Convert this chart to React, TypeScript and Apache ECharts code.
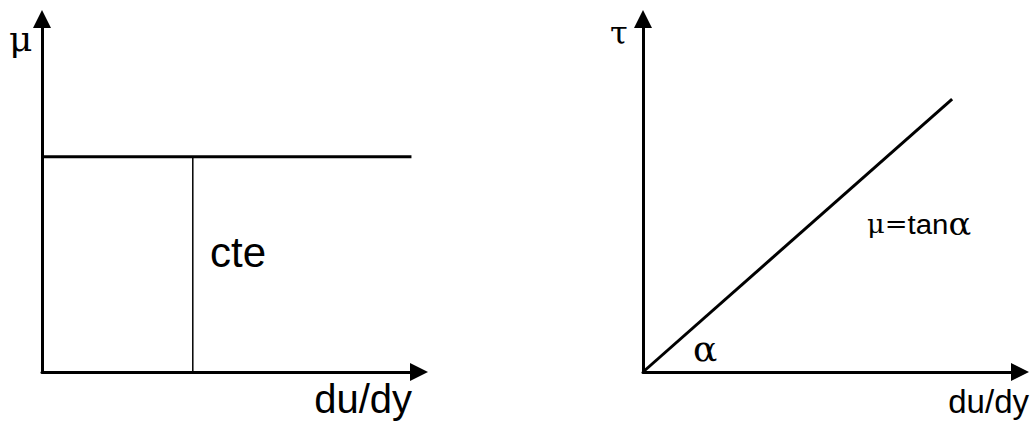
import React, { useEffect, useRef } from "react";
import * as echarts from "echarts";

// ---- data ----
const axisRange = [0, 10];
const muX = [0, 9.8]; // horizontal μ line (du/dy range)
const muY = [6.1, 6.1]; // constant viscosity
const cteX = [4, 4]; // vertical marker line
const cteY = [0, 6.1];
const tauX = [0, 8.2]; // τ vs du/dy
const tauY = [0, 7.73];
const labels = {
  mu: "μ",
  tau: "τ",
  x: "du/dy",
  cte: "cte",
  slopeLeft: "μ=",
  slopeMid: "tan",
  slopeRight: "α",
  angle: "α",
};

const SANS = "'Liberation Sans', Arial, sans-serif";
const SERIF = "'DejaVu Serif', 'Liberation Serif', serif";

function pairs(xs: number[], ys: number[]) {
  return xs.map((x, i) => [x, ys[i]]);
}

function axis(gridIndex: number) {
  return {
    type: "value",
    gridIndex,
    min: axisRange[0],
    max: axisRange[1],
    axisTick: { show: false },
    axisLabel: { show: false },
    splitLine: { show: false },
    axisLine: {
      show: true,
      symbol: ["none", "triangle"],
      symbolSize: [18, 18],
      lineStyle: { color: "#000", width: 3 },
    },
  };
}

export default function App() {
  const ref = useRef<HTMLDivElement>(null);
  useEffect(() => {
    if (!ref.current) return;
    const chart = echarts.init(ref.current, null, { renderer: "svg" });
    chart.setOption({
      animation: false,
      backgroundColor: "#fff",
      grid: [
        { left: 42, top: 19, width: 377, bottom: 49 },
        { left: 643, top: 19, width: 377, bottom: 49 },
      ],
      xAxis: [axis(0), axis(1)],
      yAxis: [axis(0), axis(1)],
      series: [
        {
          type: "line",
          xAxisIndex: 0,
          yAxisIndex: 0,
          data: pairs(muX, muY),
          showSymbol: false,
          lineStyle: { color: "#000", width: 3 },
        },
        {
          type: "line",
          xAxisIndex: 0,
          yAxisIndex: 0,
          data: pairs(cteX, cteY),
          showSymbol: false,
          lineStyle: { color: "#000", width: 1.5 },
        },
        {
          type: "line",
          xAxisIndex: 1,
          yAxisIndex: 1,
          data: pairs(tauX, tauY),
          showSymbol: false,
          lineStyle: { color: "#000", width: 3 },
        },
      ],
      graphic: [
        {
          type: "text",
          x: 9,
          y: 38,
          style: { text: labels.mu, font: `36px ${SERIF}`, fill: "#000", align: "left", verticalAlign: "middle" },
        },
        {
          type: "text",
          x: 610,
          y: 33,
          style: { text: labels.tau, font: `32px ${SERIF}`, fill: "#000", align: "left", verticalAlign: "middle" },
        },
        {
          type: "text",
          x: 412,
          y: 399,
          style: { text: labels.x, font: `40px ${SANS}`, fill: "#000", align: "right", verticalAlign: "middle" },
        },
        {
          type: "text",
          x: 1029,
          y: 401,
          style: { text: labels.x, font: `33px ${SANS}`, fill: "#000", align: "right", verticalAlign: "middle" },
        },
        {
          type: "text",
          x: 210,
          y: 252,
          style: { text: labels.cte, font: `42px ${SANS}`, fill: "#000", align: "left", verticalAlign: "middle" },
        },
        {
          type: "text",
          x: 867,
          y: 224,
          scaleX: 1.05,
          style: {
            text: `{g|${labels.slopeLeft}}{s|${labels.slopeMid}}{a|${labels.slopeRight}}`,
            fill: "#000",
            align: "left",
            verticalAlign: "middle",
            rich: {
              g: { font: `26px ${SERIF}`, fill: "#000" },
              s: { font: `28px ${SANS}`, fill: "#000" },
              a: { font: `32px ${SERIF}`, fill: "#000" },
            },
          },
        },
        {
          type: "text",
          x: 693,
          y: 348,
          style: { text: labels.angle, font: `36px ${SERIF}`, fill: "#000", align: "left", verticalAlign: "middle" },
        },
      ],
    });
    return () => chart.dispose();
  }, []);
  return (
    <div
      ref={ref}
      style={{ position: "fixed", left: 0, top: 0, width: 1030, height: 421, background: "#fff" }}
    />
  );
}
